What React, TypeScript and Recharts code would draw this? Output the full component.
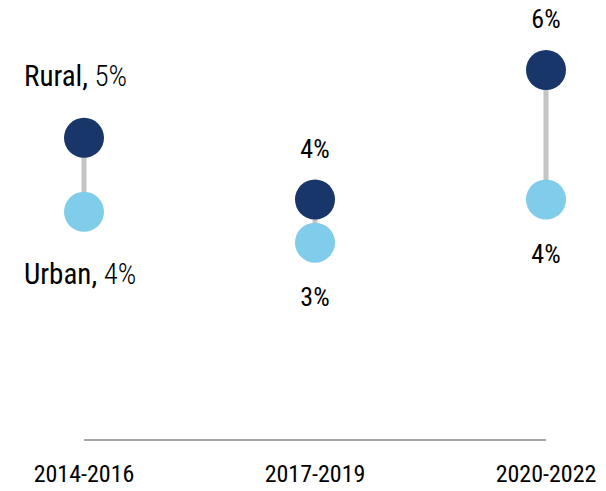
import React from 'react';
import { ComposedChart, Bar, Line, XAxis, YAxis, LabelList } from 'recharts';

const periods = ['2014-2016', '2017-2019', '2020-2022'];
const rural = [4.9, 3.9, 6.0];
const urban = [3.7, 3.2, 3.9];

const FONT = '"Roboto Condensed", "Liberation Sans Narrow", "DejaVu Sans Condensed", Roboto, sans-serif';
const DARK = '#18366a';
const LIGHT = '#7fcdea';

const data = periods.map((p, i) => ({ idx: i, period: p, rural: rural[i], urban: urban[i] }));

// label for each dot; the first period carries the series name, left aligned
const makeLabel = (name: string, above: boolean) => (props: any) => {
  const { x, y, value, index } = props;
  const pct = `${Math.round(value)}%`;
  if (index === 0) {
    const ly = above ? y - 62 : y + 62;
    return (
      <text x={x - 60} y={ly} dy="0.35em" fontFamily={FONT} fontSize={29} fill="#000">
        <tspan fontWeight={400}>{name},</tspan>
        <tspan fontWeight={300}> {pct}</tspan>
      </text>
    );
  }
  const ly = above ? y - 51 : y + 54;
  return (
    <text x={x} y={ly} dy="0.35em" textAnchor="middle" fontFamily={FONT} fontSize={26} fill="#000">
      {pct}
    </text>
  );
};

export default function App() {
  return (
    <div style={{ position: 'absolute', left: 0, top: 0, width: 606, height: 491, background: '#fff' }}>
      <ComposedChart width={606} height={491} data={data} margin={{ top: 70, right: 60, bottom: 0, left: 84 }}>
        <XAxis
          type="number"
          dataKey="idx"
          domain={[0, 2]}
          ticks={[0, 1, 2]}
          tickFormatter={(i: number) => periods[i]}
          axisLine={{ stroke: '#a6a6a6', strokeWidth: 2 }}
          tickLine={false}
          tickSize={0}
          tickMargin={25}
          height={51}
          tick={{ fill: '#000', fontSize: 24, fontFamily: FONT }}
        />
        <YAxis hide domain={[0, 6]} />
        <Bar dataKey={(d: any) => [d.urban, d.rural]} barSize={5} fill="#c4c4c4" isAnimationActive={false} />
        <Line
          dataKey="urban"
          stroke="none"
          dot={{ r: 20, fill: LIGHT, stroke: 'none' }}
          activeDot={false}
          isAnimationActive={false}
        >
          <LabelList dataKey="urban" content={makeLabel('Urban', false)} />
        </Line>
        <Line
          dataKey="rural"
          stroke="none"
          dot={{ r: 20, fill: DARK, stroke: 'none' }}
          activeDot={false}
          isAnimationActive={false}
        >
          <LabelList dataKey="rural" content={makeLabel('Rural', true)} />
        </Line>
      </ComposedChart>
    </div>
  );
}
